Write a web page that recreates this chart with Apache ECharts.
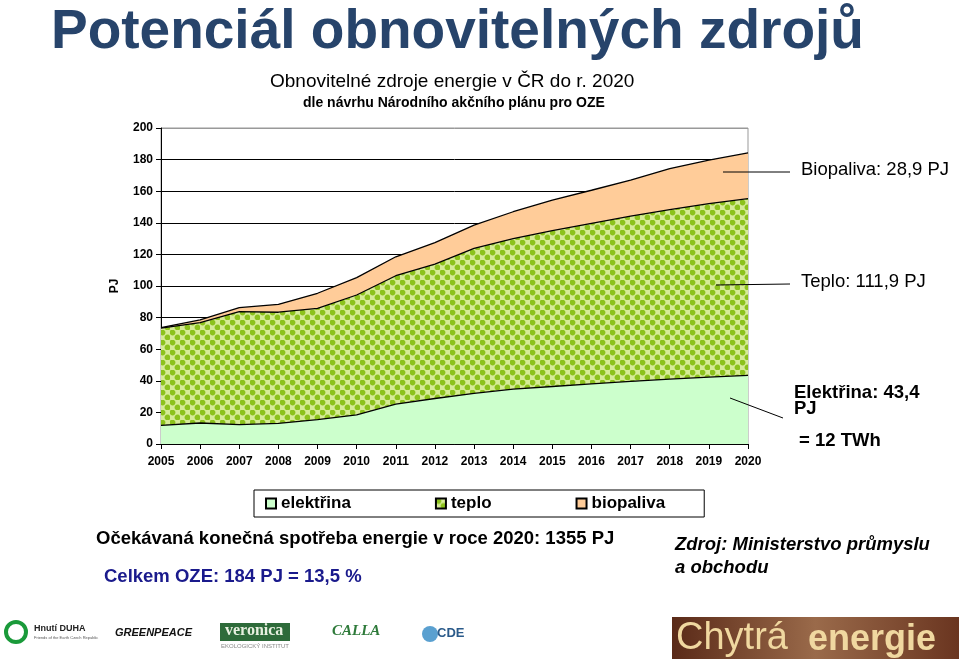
<!DOCTYPE html>
<html><head><meta charset="utf-8">
<script src="https://cdn.jsdelivr.net/npm/echarts@6/dist/echarts.min.js"></script>
<style>html,body{margin:0;padding:0;background:#fff}#c{width:960px;height:662px}</style>
</head><body><div id="c"></div>
<script>
var years = ['2005','2006','2007','2008','2009','2010','2011','2012','2013','2014','2015','2016','2017','2018','2019','2020'];
var elektrina = [11.8,13.3,12.2,13.0,15.4,18.5,25.3,28.8,32.0,34.7,36.4,38.0,39.6,41.0,42.3,43.4];
var teplo = [61.5,63.5,71.6,70.4,70.5,75.8,81.2,85.0,91.8,95.3,98.6,101.6,104.6,107.4,109.9,111.9];
var biopaliva = [0.4,1.7,2.5,5.0,9.5,11.0,12.0,13.7,14.7,17.0,19.3,21.0,22.8,25.9,27.4,28.9];
var seriesNames = ['elektřina','teplo','biopaliva'];

var F = 'Liberation Sans, Arial, sans-serif';
function makePattern(){
  var c = document.createElement('canvas'); c.width = 10; c.height = 10;
  var g = c.getContext('2d');
  g.fillStyle = '#fbfde8'; g.fillRect(0,0,10,10);
  g.fillStyle = '#d6eb98'; g.fillRect(5,0,5,5); g.fillRect(0,5,5,5);
  g.fillStyle = '#8cc21c';
  g.beginPath(); g.arc(2.5,2.5,2.9,0,Math.PI*2); g.fill();
  g.beginPath(); g.arc(7.5,7.5,2.9,0,Math.PI*2); g.fill();
  return c;
}
var pat = {image: makePattern(), repeat: 'repeat'};
var chart = echarts.init(document.getElementById('c'));
var gridColors = ['#000','#000','#000','#000','#000','#000','#000','#000','#000','#000','#999'];
var T = 'bold 18.5px ' + F;
chart.setOption({
  animation: false,
  title: [
    {text: 'Potenciál obnovitelných zdrojů', left: 46, top: 0,
     textStyle: {fontFamily: F, fontWeight: 'bold', fontSize: 55, color: '#27446b'}},
    {text: 'Obnovitelné zdroje energie v ČR do r. 2020', left: 265, top: 67,
     textStyle: {fontFamily: F, fontWeight: 'normal', fontSize: 19, color: '#000'}},
    {text: 'dle návrhu Národního akčního plánu pro OZE', left: 298, top: 91,
     textStyle: {fontFamily: F, fontWeight: 'bold', fontSize: 14, color: '#000'}}
  ],
  grid: {left: 161, right: 212, top: 128, bottom: 218, show: true, borderColor: '#999', borderWidth: 1, backgroundColor: '#fff'},
  legend: {
    data: seriesNames, left: 254, top: 490, orient: 'horizontal',
    borderColor: '#000', borderWidth: 1, padding: [5, 39, 5, 11], itemGap: 84,
    itemWidth: 10, itemHeight: 10, icon: 'rect',
    textStyle: {fontFamily: F, fontWeight: 'bold', fontSize: 17, color: '#000'}
  },
  xAxis: {type: 'category', data: years, boundaryGap: false,
    axisLine: {lineStyle: {color: '#000'}}, axisTick: {show: true, lineStyle: {color: '#000'}},
    axisLabel: {fontFamily: F, fontWeight: 'bold', fontSize: 12, color: '#000', margin: 12},
    splitLine: {show: false}},
  yAxis: {type: 'value', min: 0, max: 200, interval: 20, name: 'PJ', nameLocation: 'middle', nameGap: 40,
    nameTextStyle: {fontFamily: F, fontWeight: 'bold', fontSize: 12, color: '#000'},
    axisLine: {show: true, lineStyle: {color: '#000'}}, axisTick: {show: true, lineStyle: {color: '#000'}},
    axisLabel: {fontFamily: F, fontWeight: 'bold', fontSize: 12, color: '#000', margin: 8},
    splitLine: {show: true, lineStyle: {color: gridColors, width: 1}}},
  series: [
    {name: seriesNames[0], type: 'line', stack: 't', data: elektrina, showSymbol: false, symbol: 'none',
     lineStyle: {color: '#000', width: 1.3}, areaStyle: {color: '#ccffcc', opacity: 1}, itemStyle: {color: '#ccffcc', borderColor: '#000', borderWidth: 1}, z: 3},
    {name: seriesNames[1], type: 'line', stack: 't', data: teplo, showSymbol: false, symbol: 'none',
     lineStyle: {color: '#000', width: 1.3}, areaStyle: {color: pat, opacity: 1}, itemStyle: {color: pat, borderColor: '#000', borderWidth: 1}, z: 2},
    {name: seriesNames[2], type: 'line', stack: 't', data: biopaliva, showSymbol: false, symbol: 'none',
     lineStyle: {color: '#000', width: 1.3}, areaStyle: {color: '#ffcc99', opacity: 1}, itemStyle: {color: '#ffcc99', borderColor: '#000', borderWidth: 1}, z: 1}
  ],
  graphic: [
    {type: 'line', shape: {x1: 723, y1: 172, x2: 790, y2: 172}, style: {stroke: '#000', lineWidth: 1}, z: 10},
    {type: 'line', shape: {x1: 716, y1: 285, x2: 790, y2: 284}, style: {stroke: '#000', lineWidth: 1}, z: 10},
    {type: 'line', shape: {x1: 730, y1: 398, x2: 783, y2: 418}, style: {stroke: '#000', lineWidth: 1}, z: 10},
    {type: 'text', left: 801, top: 160, style: {text: 'Biopaliva: 28,9 PJ', font: '18.5px ' + F, fill: '#000'}},
    {type: 'text', left: 801, top: 272, style: {text: 'Teplo: 111,9 PJ', font: '18.5px ' + F, fill: '#000'}},
    {type: 'text', left: 794, top: 383, style: {text: 'Elektřina: 43,4', font: T, fill: '#000'}},
    {type: 'text', left: 794, top: 399, style: {text: 'PJ', font: T, fill: '#000'}},
    {type: 'text', left: 799, top: 431, style: {text: '= 12 TWh', font: T, fill: '#000'}},
    {type: 'text', left: 96, top: 529, style: {text: 'Očekávaná konečná spotřeba energie v roce 2020: 1355 PJ', font: T, fill: '#000'}},
    {type: 'text', left: 104, top: 567, style: {text: 'Celkem OZE: 184 PJ = 13,5 %', font: T, fill: '#1a1a8c'}},
    {type: 'text', left: 675, top: 535, style: {text: 'Zdroj: Ministerstvo průmyslu', font: 'italic ' + T, fill: '#000'}},
    {type: 'text', left: 675, top: 558, style: {text: 'a obchodu', font: 'italic ' + T, fill: '#000'}},
    // logos (text approximations)
    {type: 'circle', shape: {cx: 16, cy: 632, r: 10}, style: {fill: 'none', stroke: '#1a9a3a', lineWidth: 4}},
    {type: 'text', left: 34, top: 624, style: {text: 'Hnutí DUHA', font: 'bold 9px ' + F, fill: '#222'}},
    {type: 'text', left: 34, top: 636, style: {text: 'Friends of the Earth Czech Republic', font: '4px ' + F, fill: '#555'}},
    {type: 'text', left: 115, top: 627, style: {text: 'GREENPEACE', font: 'italic bold 11px ' + F, fill: '#111'}},
    {type: 'rect', shape: {x: 220, y: 623, width: 70, height: 18}, style: {fill: '#2e6b3a'}},
    {type: 'text', left: 225, top: 623, style: {text: 'veronica', font: 'bold 16px Liberation Serif, serif', fill: '#e8f0e0'}},
    {type: 'text', left: 221, top: 643, style: {text: 'EKOLOGICKÝ INSTITUT', font: '6px ' + F, fill: '#888'}},
    {type: 'text', left: 332, top: 624, style: {text: 'CALLA', font: 'italic bold 15px Liberation Serif, serif', fill: '#2e7a3a'}},
    {type: 'circle', shape: {cx: 430, cy: 634, r: 8}, style: {fill: '#5aa0d0'}},
    {type: 'text', left: 437, top: 627, style: {text: 'CDE', font: 'bold 13px ' + F, fill: '#2a5a8a'}},
    {type: 'rect', shape: {x: 672, y: 617, width: 287, height: 42}, style: {fill: new echarts.graphic.LinearGradient(0,0,1,0,[{offset:0,color:'#5a2a18'},{offset:0.5,color:'#9a6a4a'},{offset:1,color:'#6a3520'}])}},
    {type: 'text', left: 676, top: 620, style: {text: 'Chytrá', font: '38px Liberation Sans Narrow, ' + F, fill: '#f0d8a0'}},
    {type: 'text', left: 808, top: 622, style: {text: 'energie', font: 'bold 36px ' + F, fill: '#f0d8a0'}}
  ]
});
</script></body></html>
